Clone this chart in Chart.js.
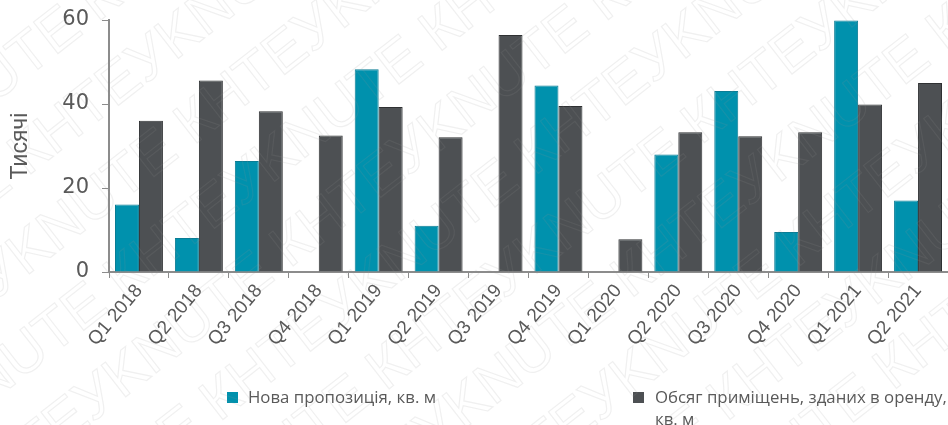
<!DOCTYPE html>
<html>
<head>
<meta charset="utf-8">
<script src="https://cdn.jsdelivr.net/npm/chart.js@4/dist/chart.umd.min.js"></script>
<style>
  html, body { margin: 0; padding: 0; background: #fff; }
  #wrap { width: 948px; height: 425px; position: relative; }
</style>
</head>
<body>
<div id="wrap"><canvas id="chart"></canvas></div>
<script>
const quarters = ["Q1 2018", "Q2 2018", "Q3 2018", "Q4 2018", "Q1 2019", "Q2 2019", "Q3 2019",
  "Q4 2019", "Q1 2020", "Q2 2020", "Q3 2020", "Q4 2020", "Q1 2021", "Q2 2021"];
const novaPropozytsiia = [16.1, 8.1, 26.4, 0, 48.3, 11.0, 0, 44.4, 0, 28.0, 43.1, 9.5, 59.9, 17.0];
const obsyagOrendy = [36.0, 45.6, 38.3, 32.5, 39.3, 32.1, 56.4, 39.5, 7.8, 33.3, 32.3, 33.3, 39.9, 45.0];
const yTicks = [0, 20, 40, 60];
const seriesNames = ["Нова пропозиція, кв. м", "Обсяг приміщень, зданих в оренду, кв. м"];
const watermark = "KNUTE КНТЕУ ";

const tealColor = "#0091ad";
const darkColor = "#4d5053";
const textGray = "#595959";
const axisGray = "#8c8c8c";

// легенда малюється вручну, бо друга назва переноситься на два рядки
const customLegend = {
  id: "customLegend",
  afterDraw(chart) {
    const c = chart.ctx;
    const spots = [{ x: 227, tx: 248, lines: ["Нова пропозиція, кв. м"] },
                   { x: 633, tx: 655, lines: ["Обсяг приміщень, зданих в оренду,", "кв. м"] }];
    c.save();
    c.font = '16.8px "Open Sans", "Noto Sans", sans-serif';
    c.textBaseline = "middle";
    chart.data.datasets.forEach((ds, i) => {
      const s = spots[i];
      c.fillStyle = ds.backgroundColor;
      c.fillRect(s.x, 392, 11, 11);
      c.fillStyle = textGray;
      s.lines.forEach((ln, k) => c.fillText(ln, s.tx, 398 + k * 22));
    });
    c.restore();
  }
};

// водяний знак
const watermarkPlugin = {
  id: "watermarkPlugin",
  afterDraw(chart) {
    const c = chart.ctx;
    c.save();
    c.font = '58px "Liberation Sans", Arial, sans-serif';
    c.strokeStyle = "rgba(150,150,150,0.14)";
    c.lineWidth = 1.2;
    c.rotate(-38 * Math.PI / 180);
    for (let r = -4; r < 12; r++) {
      const y = r * 78;
      const shift = (r % 2) * 150;
      for (let x = -700 + shift; x < 1400; x += 400) {
        c.strokeText(watermark, x, y);
      }
    }
    c.restore();
  }
};

const ctx = document.getElementById("chart").getContext("2d");
const chart = new Chart(ctx, {
  type: "bar",
  data: {
    labels: quarters,
    datasets: [
      {
        label: seriesNames[0],
        data: novaPropozytsiia,
        backgroundColor: tealColor,
        borderColor: "#0a7c94",
        borderWidth: 1,
        categoryPercentage: 0.8,
        barPercentage: 1.0
      },
      {
        label: seriesNames[1],
        data: obsyagOrendy,
        backgroundColor: darkColor,
        borderColor: "#2f3133",
        borderWidth: 1,
        categoryPercentage: 0.8,
        barPercentage: 1.0
      }
    ]
  },
  options: {
    responsive: true,
    maintainAspectRatio: false,
    animation: false,
    layout: { padding: { left: 0, right: 0, top: 20, bottom: 0 } },
    plugins: {
      legend: { display: false },
      tooltip: { enabled: false }
    },
    scales: {
      x: {
        grid: { display: true, drawOnChartArea: false, color: axisGray, tickLength: 6 },
        border: { color: axisGray, width: 2 },
        ticks: {
          color: textGray,
          font: { family: '"Liberation Sans", Arial, sans-serif', size: 19 },
          minRotation: 50,
          maxRotation: 50,
          padding: 2
        },
        afterFit(scale) {
          scale.height = 153;
          scale.paddingLeft = 0;
          scale.paddingRight = 0;
        }
      },
      y: {
        min: 0,
        max: 60,
        afterBuildTicks(scale) { scale.ticks = yTicks.map(v => ({ value: v })); },
        grid: { display: true, drawOnChartArea: false, color: axisGray, tickLength: 7 },
        border: { color: axisGray, width: 2 },
        ticks: {
          color: textGray,
          font: { family: '"DejaVu Sans", sans-serif', size: 21 },
          padding: 13
        },
        title: {
          display: true,
          text: "Тисячі",
          color: textGray,
          font: { family: '"Liberation Sans", Arial, sans-serif', size: 23 },
          padding: { top: 7, bottom: 0 }
        },
        afterFit(scale) {
          scale.width = 109;
          scale.paddingTop = 0;
          scale.paddingBottom = 0;
        }
      }
    }
  },
  plugins: [customLegend, watermarkPlugin]
});
</script>
</body>
</html>
